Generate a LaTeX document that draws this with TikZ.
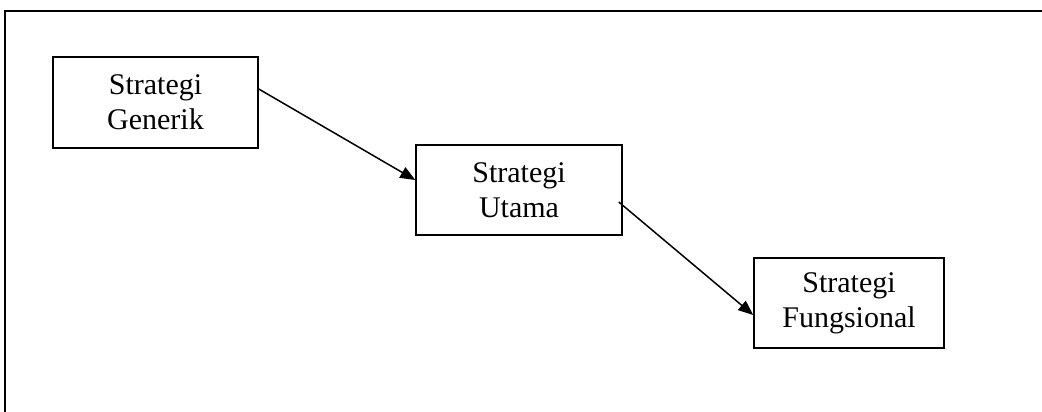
\documentclass[tikz,border=0pt]{standalone}
\usepackage{fontspec}
\setmainfont{Liberation Serif}
\usetikzlibrary{arrows.meta, positioning}
\tikzset{
    strategi/.style={draw, rectangle, align=center, line width=1.5pt, inner sep=0pt, font=\fontsize{30}{35}\selectfont},
    arrow/.style={-{Triangle[length=15pt, width=12pt]}, line width=1.5pt}
}
\begin{document}
\begin{tikzpicture}[x=1pt, y=-1pt]
        \useasboundingbox (0,0) rectangle (1042,412);

        % -----------------------------------------------------------------
        % BINGKAI
        % -----------------------------------------------------------------
        \coordinate (sudut) at (5,11);
        \draw[line width=1.5pt] (sudut |- 0,412) -- (sudut) -- (1042,11);

        % -----------------------------------------------------------------
        % KOTAK STRATEGI
        % -----------------------------------------------------------------
        \node[strategi, minimum width=205pt, minimum height=91pt] (generik) at (155.5,102.5) {Strategi\\Generik};
        \node[strategi, minimum width=206pt, minimum height=90pt] (utama) at (519,190) {Strategi\\Utama};
        \node[strategi, minimum width=190pt, minimum height=90pt] (fungsional) at (849,303) {Strategi\\Fungsional};

        % -----------------------------------------------------------------
        % PANAH
        % -----------------------------------------------------------------
        \draw[arrow] ([yshift=13.5pt]generik.east) -- ([yshift=10pt]utama.west);
        \draw[arrow] ([xshift=-4pt, yshift=-12pt]utama.east) -- ([yshift=-12pt]fungsional.west);

    \end{tikzpicture}
\end{document}
